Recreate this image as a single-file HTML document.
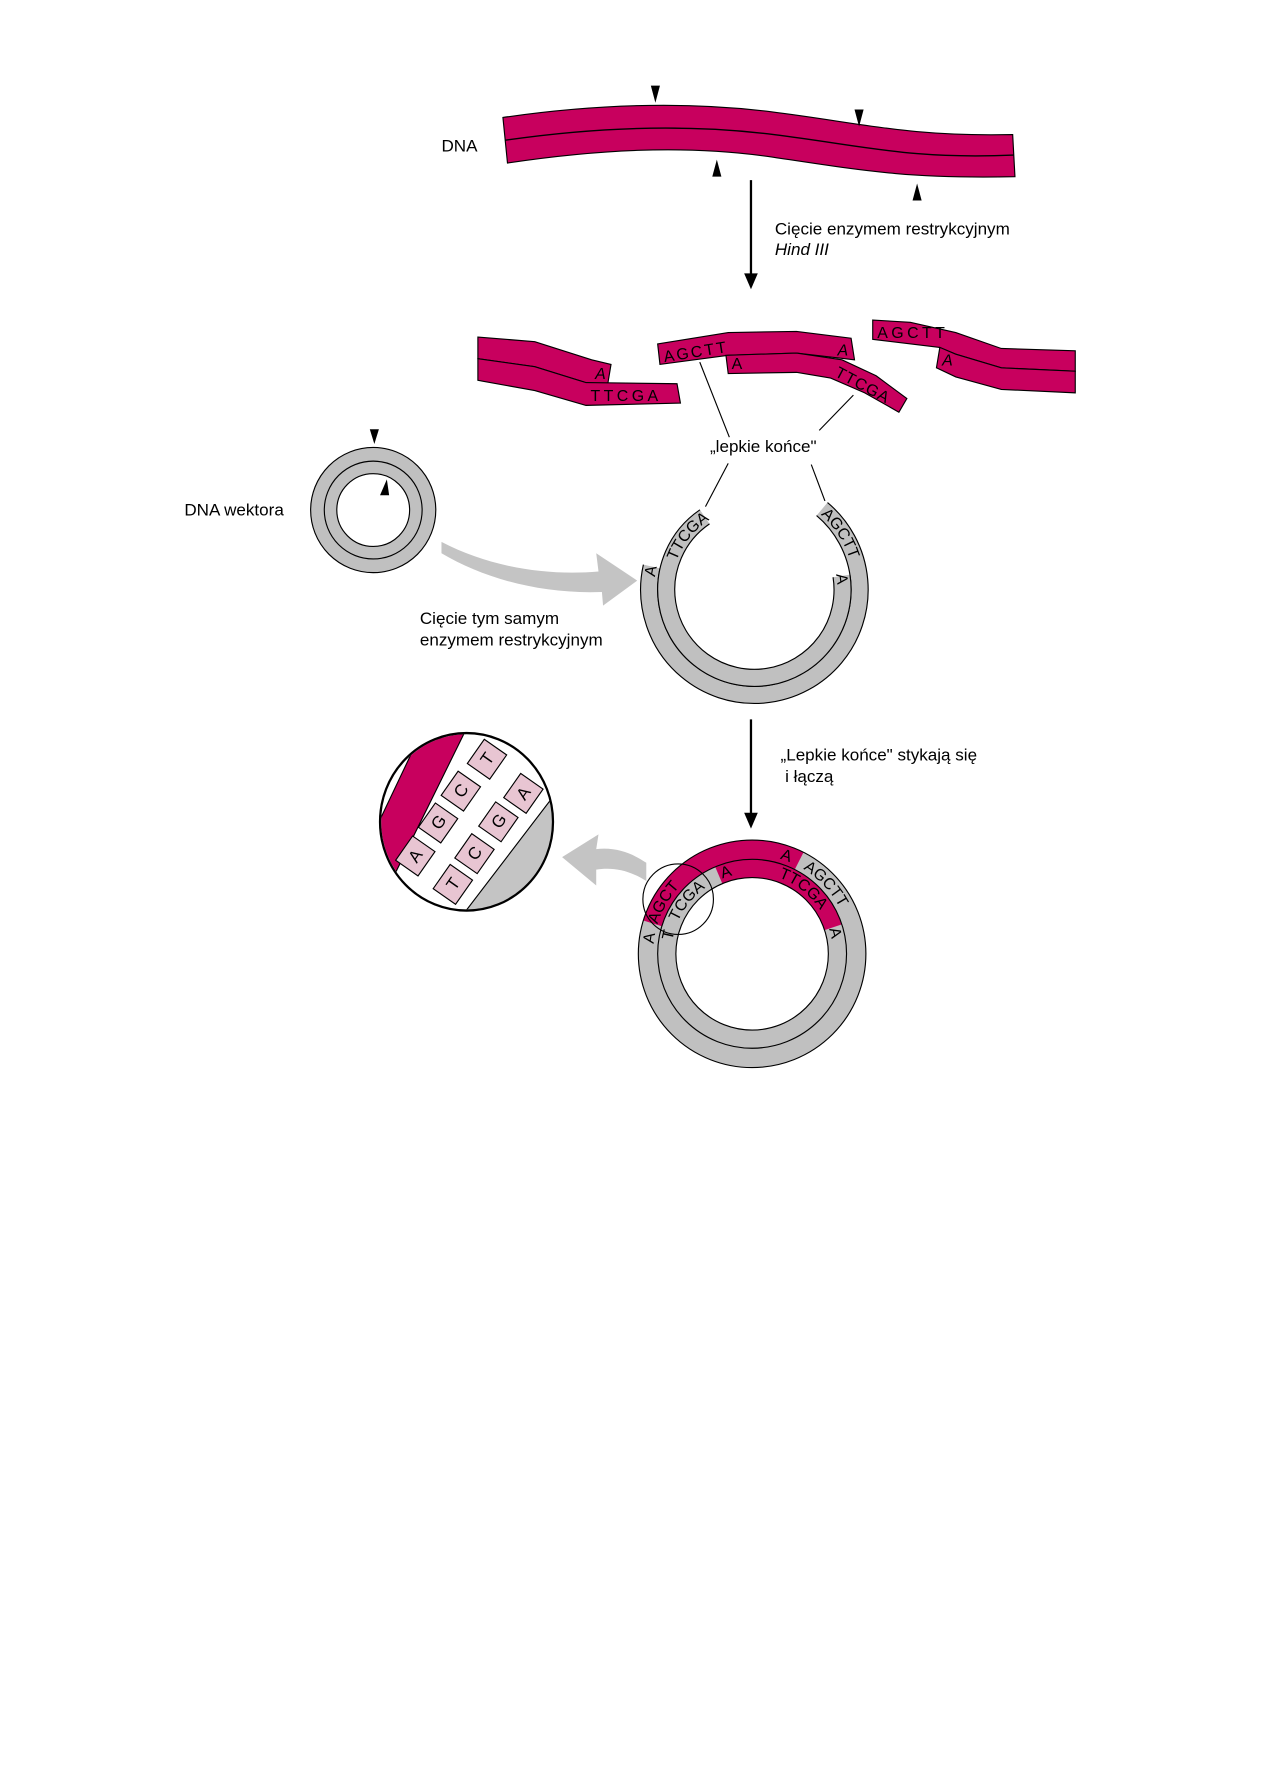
<!DOCTYPE html>
<html><head><meta charset="utf-8"><style>
html,body{margin:0;padding:0;background:#fff;}
svg{display:block;}
text{font-family:"Liberation Sans",sans-serif;fill:#000;}
</style></head><body>
<svg width="1263" height="1787" viewBox="0 0 1110 1570" xmlns="http://www.w3.org/2000/svg">
<defs>
<path id="oA" d="M751,518 A88,88 0 1 1 575,518 A88,88 0 1 1 751,518"/>
<path id="iA" d="M736,518 A73,73 0 1 1 590,518 A73,73 0 1 1 736,518"/>
<path id="oB" d="M748,838 A87,87 0 1 1 574,838 A87,87 0 1 1 748,838"/>
<path id="iB" d="M732,838 A71,71 0 1 1 590,838 A71,71 0 1 1 732,838"/>
<clipPath id="mag"><ellipse cx="410" cy="722" rx="75" ry="77"/></clipPath>
</defs>

<text x="388" y="133" font-size="15">DNA</text>
<path d="M442,103 C518,92 598,88 678,98 S798,120 890,118 L892,155 C800,157 760,150 680,138 S520,132 446,143 Z" fill="#c8005e" stroke="#000" stroke-width="1"/>
<path d="M444,123 C520,112 600,108 680,118 S800,140 891,136" fill="none" stroke="#000" stroke-width="1.2"/>
<polygon points="572,75 580,75 576,90" fill="#000"/>
<polygon points="751,96 759,96 755,111" fill="#000"/>
<polygon points="626,155 634,155 630,140" fill="#000"/>
<polygon points="802,176 810,176 806,161" fill="#000"/>

<line x1="660" y1="158" x2="660" y2="242" stroke="#000" stroke-width="2"/>
<polygon points="654,240 666,240 660,254" fill="#000"/>
<text x="681" y="206" font-size="15">Cięcie enzymem restrykcyjnym</text>
<text x="681" y="224" font-size="15" font-style="italic">Hind III</text>

<g stroke="#000" stroke-width="1" fill="#c8005e">
<polygon points="420,296 470,300 520,316 537,320 534,338 515,336 470,322 420,315"/>
<polygon points="420,315 470,322 515,336 595,337 598,354 515,356 470,343 420,334"/>
<polygon points="578,302 640,292 700,291 748,297 751,316 700,310 640,312 580,320"/>
<polygon points="638,312 700,310 740,316 770,330 797,350 790,362 760,345 730,332 700,327 640,328"/>
<polygon points="767,281 800,283 840,292 880,306 945,308 945,326 880,323 840,311 825,305 767,298"/>
<polygon points="826,305 840,311 880,323 945,326 945,345 880,342 840,331 823,323"/>
</g>
<text x="523" y="333" font-size="14" font-style="italic">A</text>
<text x="519" y="352" font-size="14" letter-spacing="3">TTCGA</text>
<text x="584" y="318" font-size="14" letter-spacing="2" transform="rotate(-9 584 318)">AGCTT</text>
<text x="736" y="312" font-size="14" font-style="italic">A</text>
<text x="643" y="324" font-size="14">A</text>
<text x="733" y="330" font-size="14" letter-spacing="1" transform="rotate(28 733 330)">TTCGA</text>
<text x="771" y="297" font-size="14" letter-spacing="3">AGCTT</text>
<text x="828" y="321" font-size="14" font-style="italic">A</text>

<line x1="615" y1="318" x2="641" y2="384" stroke="#000" stroke-width="1"/>
<line x1="750" y1="347" x2="720" y2="378" stroke="#000" stroke-width="1"/>
<text x="624" y="397" font-size="15">„lepkie końce"</text>
<line x1="640" y1="407" x2="620" y2="445" stroke="#000" stroke-width="1"/>
<line x1="713" y1="408" x2="725" y2="440" stroke="#000" stroke-width="1"/>

<text x="162" y="453" font-size="15">DNA wektora</text>
<circle cx="328" cy="448" r="43.5" fill="none" stroke="#c0c0c0" stroke-width="23"/>
<circle cx="328" cy="448" r="55" fill="none" stroke="#000" stroke-width="1"/>
<circle cx="328" cy="448" r="43" fill="none" stroke="#000" stroke-width="1"/>
<circle cx="328" cy="448" r="32" fill="none" stroke="#000" stroke-width="1"/>
<polygon points="325,377 333,377 329,390" fill="#000"/>
<polygon points="334,435 342,435 340,421" fill="#000"/>

<path d="M388,476 C430,498 480,506 526,502 L524,486 L560,510 L530,532 L529,520 C475,522 425,508 388,486 Z" fill="#c4c4c4"/>
<text x="369" y="548" font-size="15">Cięcie tym samym</text>
<text x="369" y="567" font-size="15">enzymem restrykcyjnym</text>

<g transform="rotate(310 663 518)" fill="none">
<circle cx="663" cy="518" r="92.5" stroke="#c0c0c0" stroke-width="15" pathLength="360" stroke-dasharray="243 360"/>
<circle cx="663" cy="518" r="100" stroke="#000" stroke-width="1" pathLength="360" stroke-dasharray="243 360"/>
<circle cx="663" cy="518" r="85" stroke="#000" stroke-width="1" pathLength="360" stroke-dasharray="243 360"/>
</g>
<g transform="rotate(351 663 518)" fill="none">
<circle cx="663" cy="518" r="77.5" stroke="#c0c0c0" stroke-width="15" pathLength="360" stroke-dasharray="245 360"/>
<circle cx="663" cy="518" r="70" stroke="#000" stroke-width="1" pathLength="360" stroke-dasharray="245 360"/>
<circle cx="663" cy="518" r="85" stroke="#000" stroke-width="1" pathLength="360" stroke-dasharray="245 360"/>
</g>
<text font-size="14"><textPath href="#oA" startOffset="52%">A</textPath></text>
<text font-size="14"><textPath href="#iA" startOffset="55.6%">TTCGA</textPath></text>
<text font-size="14"><textPath href="#oA" startOffset="86.5%">AGCTT</textPath></text>
<text font-size="14"><textPath href="#iA" startOffset="97%">A</textPath></text>

<line x1="660" y1="632" x2="660" y2="716" stroke="#000" stroke-width="2"/>
<polygon points="654,714 666,714 660,728" fill="#000"/>
<text x="686" y="668" font-size="15">„Lepkie końce" stykają się</text>
<text x="690" y="687" font-size="15">i łączą</text>

<circle cx="661" cy="838" r="91.5" fill="none" stroke="#c0c0c0" stroke-width="17"/>
<circle cx="661" cy="838" r="75" fill="none" stroke="#c0c0c0" stroke-width="16"/>
<g fill="none" transform="rotate(197 661 838)">
<circle cx="661" cy="838" r="91.5" stroke="#c8005e" stroke-width="17" pathLength="360" stroke-dasharray="100 360"/>
</g>
<g fill="none" transform="rotate(247 661 838)">
<circle cx="661" cy="838" r="75" stroke="#c8005e" stroke-width="16" pathLength="360" stroke-dasharray="95 360"/>
</g>
<circle cx="661" cy="838" r="100" fill="none" stroke="#000" stroke-width="1"/>
<circle cx="661" cy="838" r="83" fill="none" stroke="#000" stroke-width="1"/>
<circle cx="661" cy="838" r="67" fill="none" stroke="#000" stroke-width="1"/>
<text font-size="14"><textPath href="#oB" startOffset="51.6%">A</textPath></text>
<text font-size="14"><textPath href="#oB" startOffset="54.8%">AGCT</textPath></text>
<text font-size="14"><textPath href="#oB" startOffset="79.5%">A</textPath></text>
<text font-size="14"><textPath href="#oB" startOffset="83.6%">AGCTT</textPath></text>
<text font-size="14"><textPath href="#iB" startOffset="52.6%">T</textPath></text>
<text font-size="14"><textPath href="#iB" startOffset="56.5%">TCGA</textPath></text>
<text font-size="14"><textPath href="#iB" startOffset="69%">A</textPath></text>
<text font-size="14"><textPath href="#iB" startOffset="80.3%">TTCGA</textPath></text>
<text font-size="14"><textPath href="#iB" startOffset="95%">A</textPath></text>
<circle cx="596" cy="790" r="31" fill="none" stroke="#000" stroke-width="1"/>

<path d="M568,774 C552,764 538,762 524,764 L524,778 L494,753 L526,733 L524,746 C542,744 556,750 568,758 Z" fill="#c4c4c4"/>

<g clip-path="url(#mag)">
<rect x="330" y="640" width="160" height="170" fill="#fff"/>
<polygon points="372,640 410,640 346,770 334,770 334,720" fill="#c8005e" stroke="#000" stroke-width="1"/>
<polygon points="492,698 492,810 402,810 486,700" fill="#c4c4c4" stroke="#000" stroke-width="1"/>
<g font-size="15" stroke="#000" stroke-width="1">
<g transform="translate(365,752) rotate(-55)"><rect x="-13" y="-12" width="26" height="24" fill="#e8c5d2"/><text x="-5" y="5" stroke="none">A</text></g>
<g transform="translate(385,723) rotate(-55)"><rect x="-13" y="-12" width="26" height="24" fill="#e8c5d2"/><text x="-5" y="5" stroke="none">G</text></g>
<g transform="translate(405,695) rotate(-55)"><rect x="-13" y="-12" width="26" height="24" fill="#e8c5d2"/><text x="-5" y="5" stroke="none">C</text></g>
<g transform="translate(428,667) rotate(-55)"><rect x="-13" y="-12" width="26" height="24" fill="#e8c5d2"/><text x="-4" y="5" stroke="none">T</text></g>
<g transform="translate(398,777) rotate(-55)"><rect x="-13" y="-12" width="26" height="24" fill="#e8c5d2"/><text x="-4" y="5" stroke="none">T</text></g>
<g transform="translate(417,750) rotate(-55)"><rect x="-13" y="-12" width="26" height="24" fill="#e8c5d2"/><text x="-5" y="5" stroke="none">C</text></g>
<g transform="translate(438,722) rotate(-55)"><rect x="-13" y="-12" width="26" height="24" fill="#e8c5d2"/><text x="-5" y="5" stroke="none">G</text></g>
<g transform="translate(460,697) rotate(-55)"><rect x="-13" y="-12" width="26" height="24" fill="#e8c5d2"/><text x="-5" y="5" stroke="none">A</text></g>
</g>
</g>
<ellipse cx="410" cy="722" rx="76" ry="78" fill="none" stroke="#000" stroke-width="2"/>
</svg>
</body></html>
